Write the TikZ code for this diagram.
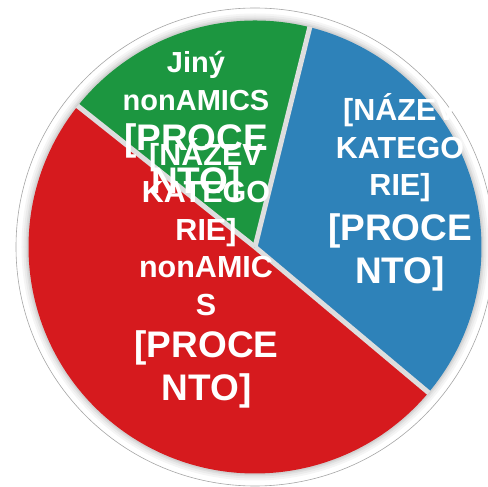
\documentclass[tikz,border=0pt]{standalone}
\usepackage{fontspec}
\setmainfont{Liberation Sans}
\usepackage{tikz}

\definecolor{piegreen}{RGB}{28,150,64}
\definecolor{pieblue}{RGB}{46,130,185}
\definecolor{piered}{RGB}{214,26,30}
\definecolor{piesep}{RGB}{222,222,222}

\begin{document}
\begin{tikzpicture}[x=1pt, y=1pt]
		\tikzstyle{label name}=[text=white, inner sep=0pt, align=center, font=\bfseries\fontsize{30.5}{37.5}\selectfont];
		\tikzstyle{label pct}=[text=white, inner sep=0pt, align=center, font=\bfseries\fontsize{37}{43}\selectfont];
		\tikzstyle{separator}=[piesep, line width=5pt];

		\useasboundingbox (-255,-240) rectangle (233,247);
		\coordinate (c) at (0,0);

		% outer ring and soft shadow
		\filldraw[fill=white, draw=black!35, line width=0.6pt] (c) circle (239);
		\fill[black!4] (c) circle (233.5);
		\fill[black!8] (c) circle (231.5);
		\fill[black!13] (c) circle (229.5);
		\fill[black!18] (c) circle (228);

		% slices
		\fill[pieblue] (c) -- (-40:226.5) arc[start angle=-40, end angle=76, radius=226.5] -- cycle;
		\fill[piegreen] (c) -- (76:226.5) arc[start angle=76, end angle=141.5, radius=226.5] -- cycle;
		\fill[piered] (c) -- (141.5:226.5) arc[start angle=141.5, end angle=320, radius=226.5] -- cycle;

		\foreach \a in {-40, 76, 141.5}
			\draw[separator] (c) -- (\a:227);

		% labels
		\node[label name, font=\bfseries\fontsize{29}{38}\selectfont] (jiny) at (-59,165.5) {Jiný\\nonAMICS};
		\node[label pct] (jinypct) at (-59,85) {[PROCE\\NTO]};

		\node[label name] (nonamics) at (-49,20) {[NÁZEV\\KATEGO\\RIE]\\nonAMIC\\S};
		\node[label pct] (nonamicspct) at (-48.5,-122) {[PROCE\\NTO]};

		\node[label name] (nazev) at (145,99) {[NÁZEV\\KATEGO\\RIE]};
		\node[label pct] (nazevpct) at (145,-5) {[PROCE\\NTO]};
	\end{tikzpicture}
\end{document}
